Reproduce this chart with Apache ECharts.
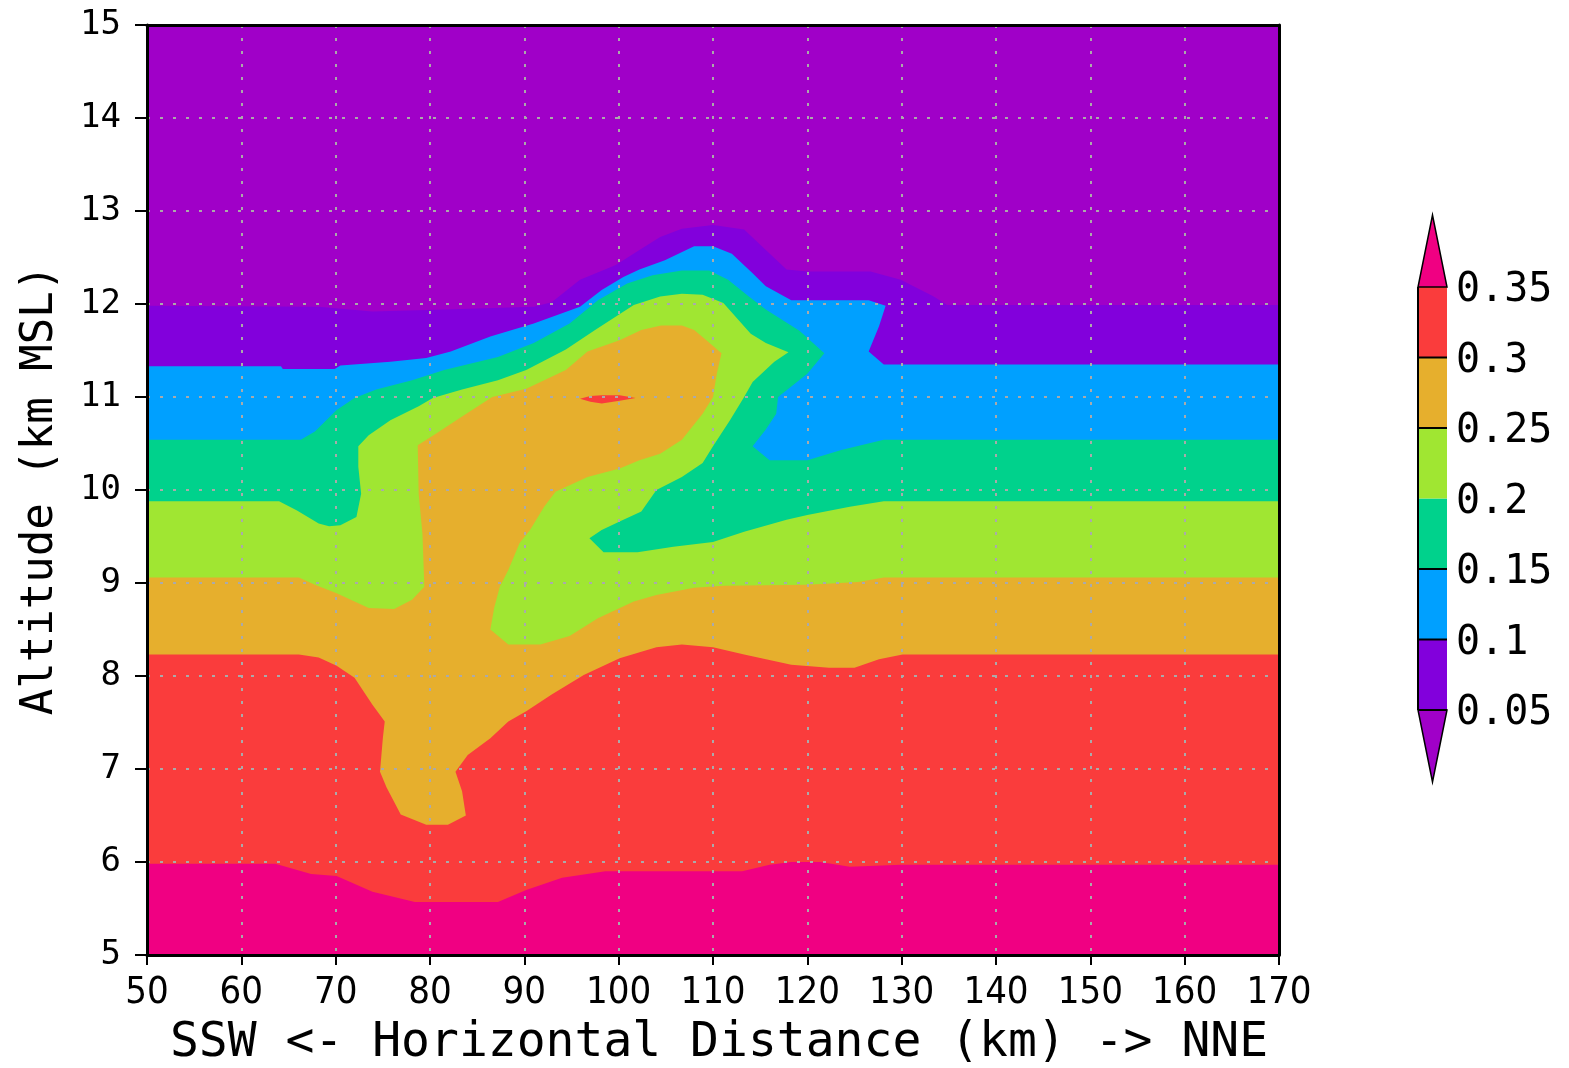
<!DOCTYPE html>
<html>
<head>
<meta charset="utf-8">
<script src="https://cdn.jsdelivr.net/npm/echarts@6/dist/echarts.min.js"></script>
<style>
html,body{margin:0;padding:0;background:#fff;}
#chart{width:1569px;height:1068px;}
</style>
</head>
<body>
<div id="chart"></div>
<script>
// ---- axis extents and ticks ----
const xRange = [50, 170];
const yRange = [5, 15];
const xTickStep = 10;
const yTickStep = 1;

// ---- contour levels and colour-bar labels ----
const levels = [0.05, 0.1, 0.15, 0.2, 0.25, 0.3, 0.35];
const levelLabels = ['0.05', '0.1', '0.15', '0.2', '0.25', '0.3', '0.35'];

// ---- contour boundaries (x km, altitude km); region above each curve is below that level ----
const below035 = [[50,5.98],[63.6,5.98],[67.4,5.87],[70.1,5.85],[73.9,5.68],[78.4,5.57],[87.2,5.57],[90.2,5.70],[94.0,5.83],[98.6,5.90],[106.2,5.90],[113.1,5.90],[116.0,5.97],[118.3,6.0],[121.4,6.0],[124.5,5.95],[129.9,5.97],[170,5.97]];
const below030 = [[50,8.23],[66.1,8.23],[68.2,8.20],[70.1,8.11],[72.0,7.98],[73.9,7.69],[75.2,7.51],[75.0,7.33],[74.7,6.97],[75.4,6.80],[76.9,6.51],[79.6,6.40],[81.9,6.40],[83.8,6.50],[83.4,6.76],[82.7,6.97],[84.0,7.15],[86.4,7.33],[88.3,7.51],[90.2,7.62],[92.9,7.80],[96.3,8.01],[100.1,8.19],[104.0,8.31],[106.7,8.34],[110.0,8.31],[113.3,8.23],[118.3,8.12],[122.3,8.09],[125.0,8.09],[127.6,8.18],[130.1,8.23],[170,8.23]];
const below025 = [[50,9.06],[66.1,9.06],[67.8,8.98],[70.1,8.89],[73.5,8.73],[76.2,8.72],[78.1,8.82],[79.4,8.96],[79.2,9.53],[78.8,9.96],[78.7,10.48],[80.7,10.61],[83.4,10.79],[86.6,11.0],[90.2,11.09],[94.4,11.29],[96.7,11.49],[100.1,11.61],[102.4,11.72],[104.5,11.77],[106.7,11.77],[108.0,11.72],[109.3,11.61],[110.9,11.47],[110.4,11.25],[110.0,11.0],[108.9,10.82],[106.7,10.54],[104.4,10.39],[102.2,10.32],[100.1,10.23],[96.7,10.14],[93.3,9.98],[92.1,9.82],[90.6,9.57],[89.5,9.43],[88.3,9.14],[87.4,8.96],[86.8,8.73],[86.4,8.50],[88.3,8.34],[91.7,8.34],[94.8,8.43],[97.8,8.62],[101.6,8.80],[104.0,8.87],[108.0,8.95],[111.1,8.97],[120.0,8.98],[125.4,9.01],[128.1,9.06],[170,9.06]];
const below020 = [[50,9.88],[64.0,9.88],[65.9,9.78],[68.2,9.64],[69.3,9.61],[70.5,9.62],[72.2,9.71],[72.7,9.96],[72.4,10.25],[72.4,10.47],[73.5,10.59],[75.8,10.75],[78.8,10.90],[80.3,10.99],[83.4,11.08],[87.2,11.18],[90.2,11.29],[94.4,11.51],[97.5,11.72],[101.6,11.99],[104.4,12.08],[106.7,12.11],[108.9,12.10],[111.1,12.01],[114.0,11.68],[115.6,11.58],[118.0,11.48],[116.5,11.38],[114.2,11.16],[113.3,11.0],[111.8,10.75],[110.0,10.47],[108.9,10.29],[106.7,10.14],[104.0,10.0],[102.4,9.77],[100.1,9.66],[98.2,9.57],[96.9,9.48],[98.4,9.33],[102.0,9.33],[105.8,9.39],[110.0,9.44],[113.3,9.55],[117.8,9.68],[120.0,9.73],[124.5,9.82],[128.1,9.88],[170,9.88]];
const below015 = [[50,10.54],[66.3,10.54],[67.8,10.63],[70.1,10.86],[72.0,10.99],[74.3,11.08],[78.1,11.18],[81.5,11.29],[87.2,11.43],[91.0,11.58],[94.8,11.79],[97.8,12.04],[100.9,12.22],[103.6,12.31],[106.7,12.36],[109.6,12.36],[111.6,12.26],[113.8,12.08],[115.6,11.94],[119.2,11.71],[121.8,11.47],[120.0,11.25],[116.9,11.0],[116.7,10.82],[115.6,10.65],[114.2,10.47],[116.0,10.32],[120.0,10.32],[123.6,10.43],[128.1,10.54],[170,10.54]];
const below010 = [[50,11.33],[64.2,11.33],[64.4,11.30],[69.9,11.30],[70.5,11.34],[75.8,11.38],[79.6,11.42],[82.2,11.49],[86.4,11.65],[91.0,11.79],[95.9,11.97],[98.2,12.15],[100.5,12.29],[102.2,12.37],[104.9,12.47],[108.0,12.62],[110.0,12.62],[112.0,12.54],[114.2,12.33],[115.6,12.19],[118.3,12.04],[126.5,12.04],[128.3,11.98],[127.6,11.76],[126.5,11.49],[128.1,11.35],[170,11.35]];
const below005 = [[50,11.98],[68.2,11.97],[73.9,11.92],[81.5,11.94],[91.0,11.97],[92.9,12.02],[95.9,12.26],[99.7,12.42],[102.2,12.58],[104.4,12.72],[106.7,12.81],[110.0,12.85],[113.3,12.80],[115.6,12.58],[117.8,12.37],[120.0,12.35],[126.7,12.35],[129.9,12.26],[133.4,12.08],[134.8,11.99],[170,11.99]];
// small closed patch above 0.3 inside the 0.25-0.3 tongue
const patchAbove030 = [[95.9,10.98],[97.0,11.01],[98.2,11.02],[100.1,11.02],[101.8,10.99],[100.1,10.96],[98.2,10.93],[97.0,10.95]];

// ---- palette (GrADS rainbow) ----
const palette = {
  gt035: '#F00082', b030: '#FA3C3C', b025: '#E6AF2D', b020: '#A0E632',
  b015: '#00D28C', b010: '#00A0FF', b005: '#8200DC', lt005: '#A000C8'
};

const monoFont = "'DejaVu Sans Mono', 'Liberation Mono', monospace";
const narrowFont = "'Liberation Sans Narrow', 'DejaVu Sans Condensed', 'Liberation Sans', sans-serif";

function closeTop(curve) {
  return curve.concat([[xRange[1], yRange[1]], [xRange[0], yRange[1]]]);
}
const fullRect = [[xRange[0], yRange[0]], [xRange[1], yRange[0]], [xRange[1], yRange[1]], [xRange[0], yRange[1]]];

function polySeries(name, pts, color, z) {
  return {
    type: 'custom', name: name, coordinateSystem: 'cartesian2d',
    data: [[pts[0][0], pts[0][1]]], silent: true, z: z, clip: true,
    renderItem: function (params, api) {
      return {
        type: 'polygon',
        shape: { points: pts.map(function (p) { return api.coord(p); }) },
        style: { fill: color, stroke: null }
      };
    }
  };
}

const series = [
  polySeries('>0.35', fullRect, palette.gt035, 1),
  polySeries('0.3-0.35', closeTop(below035), palette.b030, 1),
  polySeries('0.25-0.3', closeTop(below030), palette.b025, 1),
  polySeries('0.2-0.25', closeTop(below025), palette.b020, 1),
  polySeries('0.15-0.2', closeTop(below020), palette.b015, 1),
  polySeries('0.1-0.15', closeTop(below015), palette.b010, 1),
  polySeries('0.05-0.1', closeTop(below010), palette.b005, 1),
  polySeries('<0.05', closeTop(below005), palette.lt005, 1),
  polySeries('patch', patchAbove030, palette.b030, 1)
];

// ---- colour bar (graphic) ----
const cb = { x: 1418, w: 29, top: 287, step: 70.5, tip: 72 };
const bandColors = [palette.b005, palette.b010, palette.b015, palette.b020, palette.b025, palette.b030]; // bottom to top
const graphics = [];
const cbBottom = cb.top + cb.step * (levels.length - 1);
const cx = cb.x + cb.w / 2;
for (let i = 0; i < bandColors.length; i++) {
  const yb = cbBottom - cb.step * i;
  graphics.push({ type: 'rect', shape: { x: cb.x, y: yb - cb.step, width: cb.w, height: cb.step }, style: { fill: bandColors[i] } });
}
graphics.push({ type: 'polygon', shape: { points: [[cb.x, cb.top], [cb.x + cb.w, cb.top], [cx, cb.top - cb.tip]] }, style: { fill: palette.gt035, stroke: '#000', lineWidth: 1.5 } });
graphics.push({ type: 'polygon', shape: { points: [[cb.x, cbBottom], [cb.x + cb.w, cbBottom], [cx, cbBottom + cb.tip]] }, style: { fill: palette.lt005, stroke: '#000', lineWidth: 1.5 } });
graphics.push({ type: 'line', shape: { x1: cb.x, y1: cb.top, x2: cb.x, y2: cbBottom }, style: { stroke: '#000', lineWidth: 2 } });
for (let i = 0; i < levels.length; i++) {
  const y = cbBottom - cb.step * i;
  if (levelLabels[i] !== '0.2' && levelLabels[i] !== '0.35') {
    graphics.push({ type: 'line', shape: { x1: cb.x, y1: y, x2: cb.x + cb.w, y2: y }, style: { stroke: '#000', lineWidth: 2 } });
  }
  graphics.push({ type: 'text', x: 1456, y: y + 4, style: { text: levelLabels[i], font: '40px ' + monoFont, fill: '#000', textVerticalAlign: 'middle', textAlign: 'left' } });
}

const frameAxisLine = { show: true, lineStyle: { color: '#000', width: 3 } };

const option = {
  animation: false,
  backgroundColor: '#fff',
  grid: { left: 147, top: 25, width: 1132, height: 930, show: false, containLabel: false, outerBoundsMode: 'none' },
  xAxis: [{
    type: 'value', min: xRange[0], max: xRange[1], interval: xTickStep, z: 10,
    name: 'SSW <- Horizontal Distance (km) -> NNE', nameLocation: 'middle', nameGap: 65,
    nameTextStyle: { fontFamily: monoFont, fontSize: 48, color: '#000', padding: [0, 0, 0, 12] },
    axisLine: frameAxisLine,
    axisTick: { show: true, length: 10, lineStyle: { color: '#000', width: 2 } },
    axisLabel: { margin: 19, fontFamily: narrowFont, fontSize: 38, color: '#000' },
    splitLine: { show: true, lineStyle: { color: '#aaaaaa', width: 2, type: [3, 10] } }
  }, {
    type: 'value', position: 'top', min: xRange[0], max: xRange[1], interval: xTickStep, z: 10,
    axisLine: frameAxisLine, axisTick: { show: false }, axisLabel: { show: false }, splitLine: { show: false }
  }],
  yAxis: [{
    type: 'value', min: yRange[0], max: yRange[1], interval: yTickStep, z: 10,
    name: 'Altitude (km MSL)', nameLocation: 'middle', nameGap: 84, nameRotate: 90,
    nameTextStyle: { fontFamily: monoFont, fontSize: 44, color: '#000' },
    axisLine: frameAxisLine,
    axisTick: { show: true, length: 12, lineStyle: { color: '#000', width: 2 } },
    axisLabel: { margin: 26, fontFamily: monoFont, fontSize: 34, color: '#000' },
    splitLine: { show: true, lineStyle: { color: '#aaaaaa', width: 2, type: [3, 10] } }
  }, {
    type: 'value', position: 'right', min: yRange[0], max: yRange[1], interval: yTickStep, z: 10,
    axisLine: frameAxisLine, axisTick: { show: false }, axisLabel: { show: false }, splitLine: { show: false }
  }],
  graphic: graphics,
  series: series
};

const chart = echarts.init(document.getElementById('chart'), null, { renderer: 'canvas' });
chart.setOption(option);
</script>
</body>
</html>
